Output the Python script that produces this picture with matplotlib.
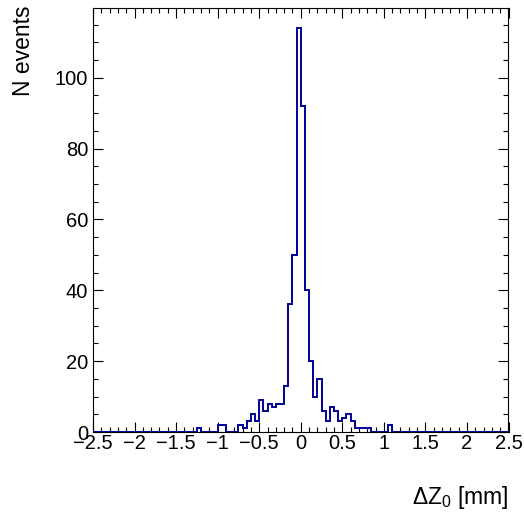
"""
Delta Z0 distribution, ROOT-like histogram style.

Writes out.png in the working directory.
"""

import matplotlib

matplotlib.use("Agg")
import matplotlib.pyplot as plt
import numpy as np
from matplotlib.ticker import MultipleLocator

# histogram range and binning (100 bins of 0.05 mm)
X_MIN = -2.5
X_MAX = 2.5
N_BINS = 100

# non-empty bins: lower edge of bin (mm) -> number of events
bin_low = [
    -1.25, -1.0, -0.95, -0.75, -0.7, -0.65, -0.6, -0.55, -0.5, -0.45,
    -0.4, -0.35, -0.3, -0.25, -0.2, -0.15, -0.1, -0.05, 0.0, 0.05,
    0.1, 0.15, 0.2, 0.25, 0.3, 0.35, 0.4, 0.45, 0.5, 0.55,
    0.6, 0.65, 0.7, 0.75, 0.8, 1.05,
]
bin_count = [
    1, 2, 2, 2, 1, 3, 5, 3, 9, 6,
    8, 7, 8, 8, 13, 36, 50, 114, 92, 40,
    20, 10, 15, 6, 3, 7, 6, 3, 4, 5,
    3, 1, 1, 1, 1, 2,
]

x_ticks = [-2.5, -2, -1.5, -1, -0.5, 0, 0.5, 1, 1.5, 2, 2.5]
x_tick_labels = ["\u22122.5", "\u22122", "\u22121.5", "\u22121", "\u22120.5", "0",
                 "0.5", "1", "1.5", "2", "2.5"]
y_ticks = [0, 20, 40, 60, 80, 100]

LINE_COLOR = "#000099"

plt.rcParams["font.family"] = ["Liberation Sans", "DejaVu Sans"]
plt.rcParams["mathtext.fontset"] = "custom"
plt.rcParams["mathtext.rm"] = "Liberation Sans"
plt.rcParams["mathtext.it"] = "Liberation Sans:italic"


def main():
    edges = np.linspace(X_MIN, X_MAX, N_BINS + 1)
    counts = np.zeros(N_BINS)
    for lo, n in zip(bin_low, bin_count):
        idx = int(round((lo - X_MIN) / (X_MAX - X_MIN) * N_BINS))
        counts[idx] = n

    fig = plt.figure(figsize=(5.24, 5.13), dpi=100)
    ax = fig.add_axes([93 / 524, 1 - 432 / 513, 415.5 / 524, 424 / 513])

    ax.stairs(counts, edges, baseline=0, color=LINE_COLOR, linewidth=1.4, zorder=2)

    ax.set_xlim(X_MIN, X_MAX)
    ax.set_ylim(0, counts.max() * 1.05)

    ax.set_xticks(x_ticks)
    ax.set_xticklabels(x_tick_labels)
    ax.set_yticks(y_ticks)
    ax.xaxis.set_minor_locator(MultipleLocator(0.1))
    ax.yaxis.set_minor_locator(MultipleLocator(5))

    ax.tick_params(which="both", direction="in", top=True, right=True, width=0.8,
                   labelsize=14.5, colors="black")
    ax.tick_params(which="major", length=7.2)
    ax.tick_params(which="minor", length=3.6)
    ax.tick_params(axis="x", which="major", pad=1.5)
    ax.tick_params(axis="y", which="major", pad=3.5)
    for spine in ax.spines.values():
        spine.set_linewidth(0.8)
        spine.set_zorder(3)

    fig.text(508.5 / 524, 1 - 504 / 513, r"$\mathrm{\Delta Z_0}$ [mm]",
             ha="right", va="baseline", fontsize=16.5)
    fig.text(24 / 524, 1 - 5 / 513, "N events", rotation=90,
             ha="center", va="top", fontsize=16.5)

    fig.savefig("out.png", dpi=100)
    plt.close(fig)


if __name__ == "__main__":
    main()
